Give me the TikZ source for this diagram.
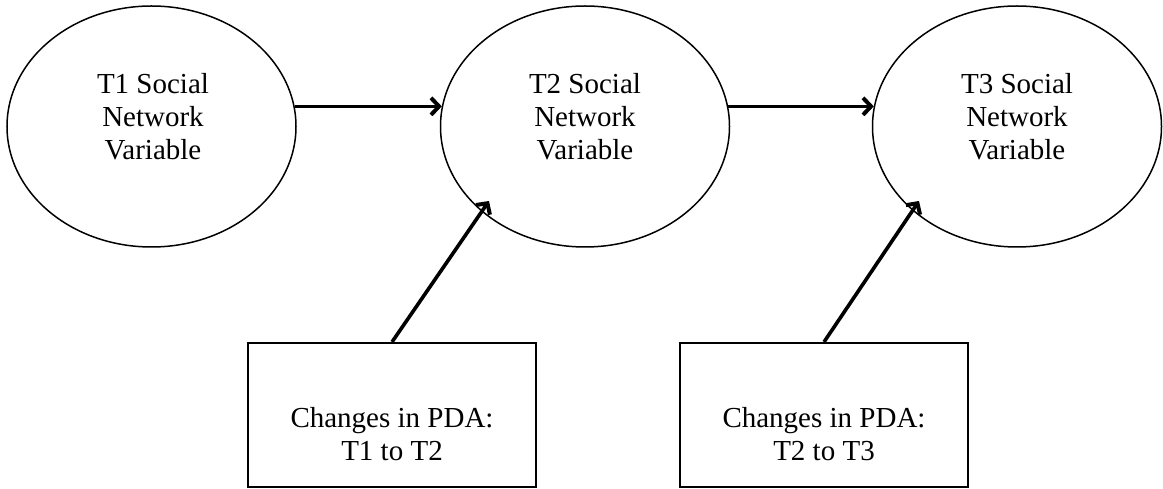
\documentclass[tikz,border=0pt]{standalone}
\usepackage{fontspec}
\setmainfont{Liberation Serif}
\usetikzlibrary{arrows.meta,shapes.geometric}
\begin{document}
\begin{tikzpicture}[x=1pt,y=-1pt,
  oval/.style={ellipse,draw,line width=1.5pt,minimum width=289pt,minimum height=241pt,inner sep=0pt},
  lbl/.style={align=center,font=\fontsize{29}{33}\selectfont,inner sep=0pt},
  box/.style={rectangle,draw,line width=2pt,minimum width=288pt,minimum height=144pt,inner sep=0pt},
  conn/.style={line width=3.6pt,-{Straight Barb[length=8pt,width=17pt,line width=4pt]}}]
\useasboundingbox (0,0) rectangle (1163,489);
\node[oval] (e1) at (151.5,126.5) {};
\node[oval] (e2) at (585,126.5) {};
\node[oval] (e3) at (1017,126.5) {};
\node[lbl] (l1) at (153,117) {T1 Social\\Network\\Variable};
\node[lbl] (l2) at (585,117) {T2 Social\\Network\\Variable};
\node[lbl] (l3) at (1017,117) {T3 Social\\Network\\Variable};
\node[box] (b1) at (392,415) {};
\node[box] (b2) at (824,415) {};
\node[lbl] (m1) at (392,434) {Changes in PDA:\\T1 to T2};
\node[lbl] (m2) at (824,434) {Changes in PDA:\\T2 to T3};
\coordinate (t1) at (489,201);
\coordinate (t2) at (919,201);
\draw[conn] (e1.8) -- (e2.172);
\draw[conn] (e2.8) -- (e3.172);
\draw[conn] (b1.north) -- (t1);
\draw[conn] (b2.north) -- (t2);
\end{tikzpicture}
\end{document}
